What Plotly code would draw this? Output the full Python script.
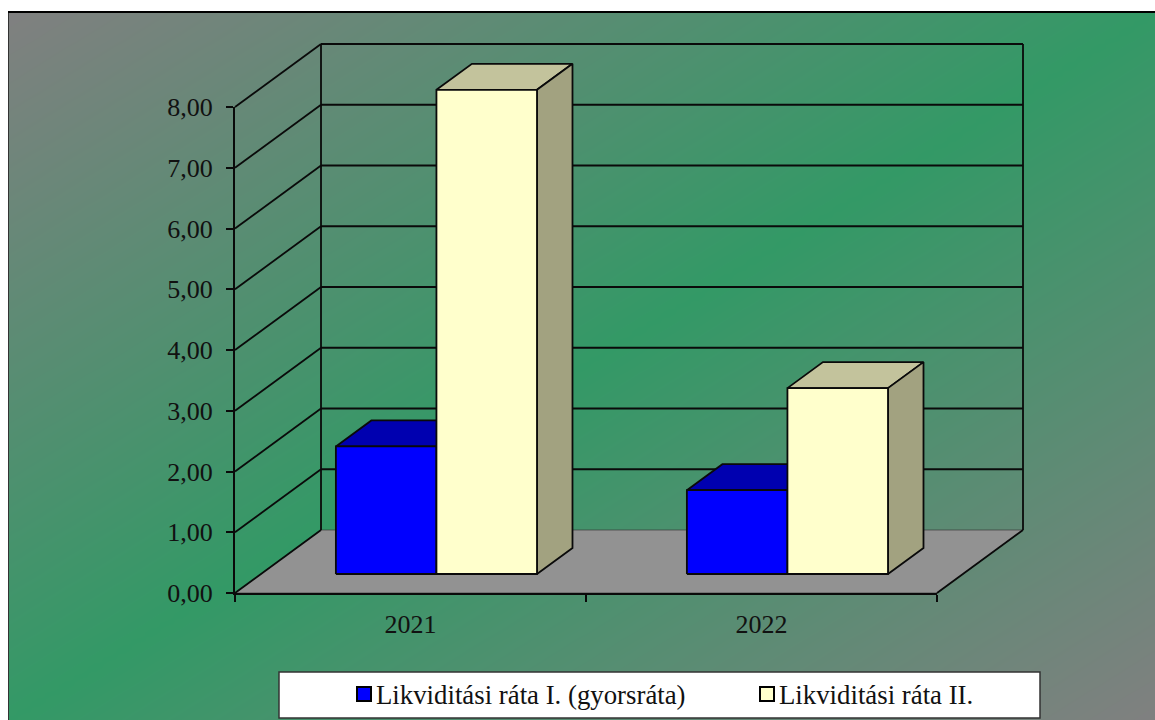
import numpy as np
import plotly.graph_objects as go

categories = ["2021", "2022"]
series_names = ["Likviditási ráta I. (gyorsráta)", "Likviditási ráta II."]
rate_1 = [2.10, 1.38]
rate_2 = [7.97, 3.06]
y_ticks = [0, 1, 2, 3, 4, 5, 6, 7, 8]

W, H = 1155, 720
PX_X = 351.0   # pixels per category
PX_Y = 60.75   # pixels per value unit
X0_PX, Y0_PX = 235, 593  # position of the axes' origin on the page
DX = 86 / PX_X  # wall depth in x units
DY = 63 / PX_Y  # wall depth in y units
D0, D1 = 19 / 63, 45 / 63  # bar depth span
GAP, BW = 0.2135, 0.2865   # bar layout inside a category
LW = 1.8


def proj(x, v, d):
    return x + d * DX, v + d * DY


def poly(name, pts, fill, lw=LW, lc="#0a0a0a"):
    xs = [p[0] for p in pts] + [pts[0][0]]
    ys = [p[1] for p in pts] + [pts[0][1]]
    return go.Scatter(x=xs, y=ys, xaxis="x2", yaxis="y2", mode="lines", fill="toself",
                      fillcolor=fill, line=dict(color=lc, width=lw),
                      showlegend=False, hoverinfo="skip", name=name)


def seg(points, lw=LW, color="#0a0a0a"):
    xs, ys = [], []
    for a, b in points:
        xs += [a[0], b[0], None]
        ys += [a[1], b[1], None]
    return go.Scatter(x=xs, y=ys, xaxis="x2", yaxis="y2", mode="lines",
                      line=dict(color=color, width=lw),
                      showlegend=False, hoverinfo="skip")


fig = go.Figure()

# gradient background (diagonal band, grey corners)
gx = np.linspace(0, 1, 121)
gy = np.linspace(0, 1, 81)
gz = np.abs(gx[None, :] + gy[:, None] - 1)
fig.add_trace(go.Heatmap(x=gx, y=gy, z=gz, zmin=0, zmax=1, zsmooth="best", showscale=False,
                         colorscale=[[0, "#339966"], [1, "#808080"]], hoverinfo="skip"))

n = len(categories)
top = y_ticks[-1]
# floor
fig.add_trace(poly("floor", [proj(0, 0, 0), proj(n, 0, 0), proj(n, 0, 1), proj(0, 0, 1)],
                   "#929292", lw=0.8, lc="rgba(50,50,50,0.8)"))
# walls: grid lines
wall = []
for t in y_ticks:
    if t > 0:
        wall.append((proj(0, t, 1), proj(n, t, 1)))
    wall.append((proj(0, t, 0), proj(0, t, 1)))
fig.add_trace(seg(wall))
fig.add_trace(seg([(proj(0, 0, 1), proj(0, top, 1)),
                   (proj(n, 0, 1), proj(n, top, 1)),
                   (proj(n, 0, 0), proj(n, 0, 1))]))

# bars
styles = [("#0000FF", "#0000B0", "#0000A0"), ("#FFFFCC", "#C3C39C", "#A2A280")]
for c in range(n):
    for s, values in enumerate([rate_1, rate_2]):
        v = values[c]
        x0 = c + GAP + s * BW
        x1 = x0 + BW
        front, topc, side = styles[s]
        fig.add_trace(poly("top", [proj(x0, v, D0), proj(x1, v, D0), proj(x1, v, D1), proj(x0, v, D1)], topc))
        fig.add_trace(poly("side", [proj(x1, 0, D0), proj(x1, v, D0), proj(x1, v, D1), proj(x1, 0, D1)], side))
        fig.add_trace(poly(series_names[s], [proj(x0, 0, D0), proj(x1, 0, D0), proj(x1, v, D0), proj(x0, v, D0)], front))

# legend entries (these also bring the visible axes to life)
for s, name in enumerate(series_names):
    fig.add_trace(go.Scatter(x=[None], y=[None], xaxis="x3", yaxis="y3", mode="markers", name=name,
                             marker=dict(symbol="square", size=14, color=styles[s][0],
                                         line=dict(color="black", width=2))))

SERIF = "Liberation Serif"
hidden = dict(visible=False, fixedrange=True)
fig.update_layout(
    width=W, height=H, margin=dict(l=0, r=0, t=0, b=0, autoexpand=False), autosize=False,
    paper_bgcolor="white", plot_bgcolor="rgba(0,0,0,0)",
    separators=", ",
    font=dict(family=SERIF, size=26, color="#111111"),
    # page background
    xaxis=dict(domain=[9 / W, 1], range=[0, 1], side="top", showline=True, linecolor="black", linewidth=2,
               showgrid=False, zeroline=False, showticklabels=False, ticks=""),
    yaxis=dict(domain=[0, (H - 13) / H], range=[1, 0], showline=True, linecolor="#333333", linewidth=1,
               showgrid=False, zeroline=False, showticklabels=False, ticks=""),
    # full-page axes the marks are drawn on: same scale as the visible axes below
    xaxis2=dict(domain=[0, 1], range=[-X0_PX / PX_X, (W - X0_PX) / PX_X], anchor="y2", **hidden),
    yaxis2=dict(domain=[0, 1], range=[-(H - Y0_PX) / PX_Y, Y0_PX / PX_Y], anchor="x2", **hidden),
    # visible axes
    xaxis3=dict(domain=[X0_PX / W, (X0_PX + n * PX_X) / W], range=[0, n], anchor="y3", automargin=False,
                tickvals=[i + 0.5 for i in range(n)], ticktext=categories, ticks="",
                showline=True, linecolor="#0a0a0a", linewidth=2, showgrid=False, zeroline=False,
                ticklabelstandoff=7,
                minor=dict(tickvals=list(range(n + 1)), ticks="outside", ticklen=7, tickwidth=1.5,
                           tickcolor="#0a0a0a", showgrid=False)),
    yaxis3=dict(domain=[(H - Y0_PX) / H, (H - Y0_PX + top * PX_Y) / H], range=[0, top], anchor="x3", automargin=False,
                tickvals=y_ticks, tickformat=".2f", ticks="outside", ticklen=7, tickwidth=1.5,
                tickcolor="#0a0a0a", showline=True, linecolor="#0a0a0a", linewidth=2,
                showgrid=False, zeroline=False, ticklabelstandoff=8),
    showlegend=True,
    legend=dict(orientation="h", x=336 / W, xanchor="left", y=(H - 718) / H, yanchor="bottom",
                bgcolor="rgba(0,0,0,0)", borderwidth=0, entrywidth=358, entrywidthmode="pixels",
                font=dict(family=SERIF, size=26.8, color="#111111"), itemclick=False, itemdoubleclick=False),
    shapes=[dict(type="rect", xref="paper", yref="paper", x0=279 / W, x1=1040 / W,
                 y0=(H - 718) / H, y1=(H - 672) / H, fillcolor="white",
                 line=dict(color="#333333", width=1.5), layer="above")],
)

post = ("document.body.style.margin='0';document.documentElement.style.overflow='hidden';"
        "document.querySelectorAll('.legendsymbols').forEach(function(g){g.setAttribute('transform','translate(8,0)');});")
fig.write_html("out.html", config=dict(displayModeBar=False), post_script=post)
